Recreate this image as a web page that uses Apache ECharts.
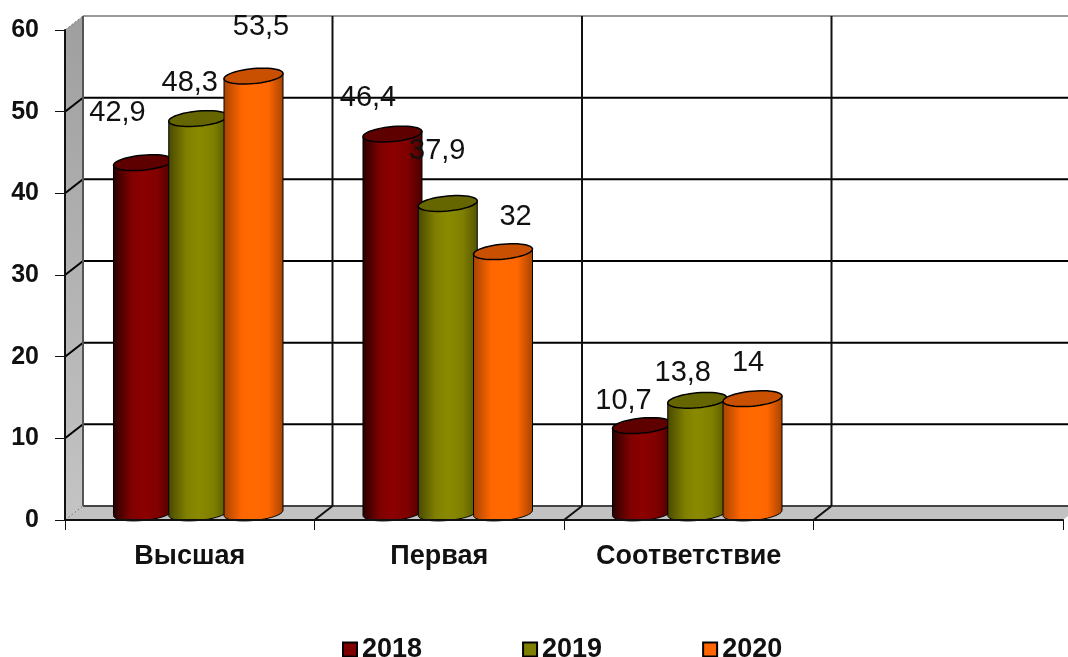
<!DOCTYPE html>
<html><head><meta charset="utf-8">
<style>html,body{margin:0;padding:0;background:#fff}#c{width:1068px;height:657px}</style>
<script src="https://cdn.jsdelivr.net/npm/echarts@6/dist/echarts.min.js"></script>
</head><body><div id="c"></div>
<script>
const categories = ['Высшая', 'Первая', 'Соответствие', ''];
const years = ['2018', '2019', '2020'];
const values2018 = [42.9, 46.4, 10.7];
const values2019 = [48.3, 37.9, 13.8];
const values2020 = [53.5, 32, 14];
const valueTicks = [0, 10, 20, 30, 40, 50, 60];

const palette = [
  {main:'#800000', hi:'#8c0000', edgeL:'#2a0000', edgeR:'#4d0000', top:'#5e0000'},
  {main:'#808000', hi:'#8a8a00', edgeL:'#4a4a00', edgeR:'#565600', top:'#666600'},
  {main:'#ff6600', hi:'#ff6a00', edgeL:'#a84400', edgeR:'#a84400', top:'#c85000'}
];
const DX = 18, DY = 14, R = 29.5, RY = 7.5, TILT = 2.6;
// label nudges from the cylinder's top centre, as hand-placed in the original
const labelNudge = [
  [[-26,-58],[-25,-44],[-19,-33]],
  [[-9,-44],[-11,-60],[-15,-35]],
  [[7,-57],[12,-43],[-5,-44]]
];

function ellipsePts(cx, cy, from, to, n){
  const pts = [];
  for(let k=0;k<=n;k++){
    const t = from + (to-from)*k/n;
    pts.push([cx + R*Math.cos(t), cy + RY*Math.sin(t) - TILT*Math.cos(t)]);
  }
  return pts;
}
function cylinder(s){
  return function(params, api){
    const cat = api.value(0), v = api.value(1);
    const p = api.coord([cat, v]), p0 = api.coord([cat, 0]);
    const band = api.size([1,0])[0];
    const cx = p[0] + DX/2 - 0.5 + (s-1)*band*0.2215;
    const yt = p[1] - DY/2, yb = p0[1] - DY/2;
    const c = palette[s];
    const grad = new echarts.graphic.LinearGradient(cx-R,0,cx+R,0,[
      {offset:0,color:c.edgeL},{offset:.3,color:c.main},{offset:.5,color:c.hi},
      {offset:.75,color:c.main},{offset:1,color:c.edgeR}],true);
    const body = [[cx-R,yt+TILT],[cx+R,yt-TILT]].concat(ellipsePts(cx,yb,0,Math.PI,24));
    const n = labelNudge[s][params.dataIndex];
    return {type:'group',children:[
      {type:'polygon',shape:{points:body},style:{fill:grad,stroke:'#000',lineWidth:1}},
      {type:'polygon',shape:{points:ellipsePts(cx,yt,0,2*Math.PI,48)},style:{fill:c.top,stroke:'#000',lineWidth:1.5}},
      {type:'text',z2:50,style:{text:String(v).replace('.',','),x:cx+n[0]+0.5,y:p[1]+n[1]+1,
        align:'center',verticalAlign:'middle',font:'29px "Liberation Sans"',fill:'#111'}}
    ]};
  };
}
function renderFrame(params, api){
  const x0 = api.coord([0,0]);
  const band = api.size([1,0])[0];
  const L = x0[0]-band/2, B = x0[1], T = api.coord([0,valueTicks[valueTicks.length-1]])[1];
  const Rt = L + band*categories.length;
  const ch = [];
  ch.push({type:'polygon',shape:{points:[[L,T],[L+DX,T-DY],[L+DX,B-DY],[L,B]]},
    style:{fill:new echarts.graphic.LinearGradient(0,T,0,B,[{offset:0,color:'#a0a0a0'},{offset:1,color:'#c4c4c4'}],true)}});
  ch.push({type:'polygon',shape:{points:[[L,B],[L+DX,B-DY],[Rt+DX,B-DY],[Rt,B]]},style:{fill:'#c2c2c2'}});
  valueTicks.forEach(function(t,i){
    const y = api.coord([0,t])[1];
    const top = i===valueTicks.length-1, bot = i===0;
    ch.push({type:'line',shape:{x1:L,y1:y,x2:L+DX,y2:y-DY},
      style:{stroke:(top||bot)?'#777':'#000',lineWidth:(top||bot)?1:2,lineDash:(top||bot)?[2,2]:null}});
    ch.push({type:'line',shape:{x1:L+DX,y1:y-DY,x2:Rt+DX,y2:y-DY},
      style:{stroke:top?'#9a9a9a':(bot?'#444':'#000'),lineWidth:2}});
  });
  for(let i=0;i<categories.length;i++){
    const x = L+band*i;
    if(i>0) ch.push({type:'line',shape:{x1:x,y1:B,x2:x+DX,y2:B-DY},style:{stroke:'#111',lineWidth:2}});
    ch.push({type:'line',shape:{x1:x+DX,y1:T-DY,x2:x+DX,y2:B-DY},
      style:{stroke:i===0?'#555':'#111',lineWidth:2}});
  }
  return {type:'group',children:ch};
}

const seriesData = [values2018, values2019, values2020];
const chart = echarts.init(document.getElementById('c'), null, {renderer:'canvas'});
chart.setOption({
  animation:false,
  backgroundColor:'#fff',
  grid:{left:65,right:5,top:30,bottom:137,containLabel:false},
  legend:{
    data:years.map(function(n,i){return {name:n,icon:'rect',
      itemStyle:{color:palette[i].main,borderColor:'#000',borderWidth:2}};}),
    left:342,top:636,padding:0,itemWidth:14,itemHeight:14,itemGap:100,
    textStyle:{fontFamily:'Liberation Sans',fontWeight:'bold',fontSize:27,color:'#111'}
  },
  xAxis:{type:'category',data:categories,z:5,
    axisLine:{lineStyle:{color:'#111',width:2}},
    axisTick:{show:true,length:10,alignWithLabel:false,lineStyle:{color:'#111',width:1}},
    axisLabel:{margin:23,interval:0,fontFamily:'Liberation Sans',fontWeight:'bold',fontSize:27,color:'#111'},
    splitLine:{show:false}},
  yAxis:{type:'value',min:0,max:60,interval:10,z:5,
    axisLine:{show:true,lineStyle:{color:'#111',width:2}},
    axisTick:{show:true,length:10,lineStyle:{color:'#111',width:1}},
    axisLabel:{margin:26,padding:[4,0,0,0],fontFamily:'Liberation Sans',fontWeight:'bold',fontSize:25,color:'#111'},
    splitLine:{show:false}},
  series:[{type:'custom',name:'frame',silent:true,z:1,coordinateSystem:'cartesian2d',
      renderItem:renderFrame,data:[[0,0]],clip:false}]
    .concat(years.map(function(y,s){
      return {type:'custom',name:y,z:3+s,coordinateSystem:'cartesian2d',
        renderItem:cylinder(s),clip:false,
        itemStyle:{color:palette[s].main},
        data:seriesData[s].map(function(v,i){return [i,v];})};
    }))
});
</script></body></html>
